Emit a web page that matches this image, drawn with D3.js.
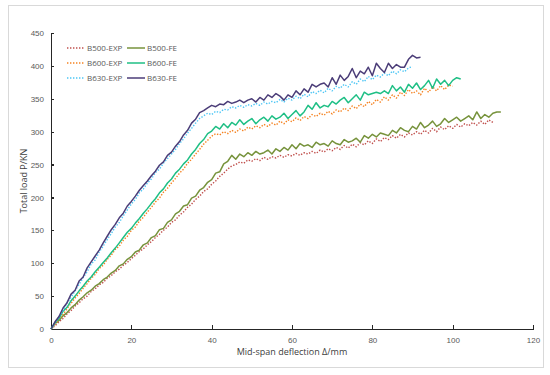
<!DOCTYPE html>
<meta charset="utf-8">
<style>
body { margin: 0; background: #fff; }
svg { font-family: "Open Sans", "Noto Sans", sans-serif; }
.axis path, .axis line { stroke: #262626; stroke-width: 1.3; shape-rendering: crispEdges; }
.axis text { fill: #595959; font-size: 8px; }
.label { fill: #404040; font-size: 9px; }
.legend text { fill: #595959; font-size: 8px; }
</style>
<body>
<script src="https://cdn.jsdelivr.net/npm/d3@7"></script>
<script>

// deflection sampled every 1 mm from 0 (index = mm)
var dx = 1;

var b500exp = [0,5,11,16,23,28,35,40,46,50,57,61,67,71,77,81,87,91,97,101,107,112,118,122,128,133,139,144,150,155,162,166,173,178,185,190,197,202,209,213,220,225,232,237,243,248,250,254,252,257,255,259,256,261,258,262,260,264,261,265,263,267,264,268,266,270,267,272,269,274,271,276,273,279,275,281,277,283,280,286,282,289,285,291,288,294,290,296,292,298,295,300,296,302,298,305,300,307,303,309,305,311,307,312,309,314,310,316,311,318,314];
var b500fe = [0,8,13,20,25,32,37,44,49,55,59,65,69,75,79,85,89,96,99,106,110,117,120,128,131,139,142,151,153,162,166,175,179,187,189,199,202,211,215,223,227,237,239,251,255,264,258,266,262,268,264,270,266,268,272,266,274,270,276,272,280,274,282,278,280,276,284,280,282,278,286,282,280,288,284,286,290,284,294,290,296,292,298,296,294,302,298,306,302,300,308,304,314,306,310,316,308,312,320,314,318,322,316,320,324,318,330,320,326,322,328,330,330];
var b600exp = [0,7,15,22,31,39,47,54,62,69,77,83,92,97,106,112,121,126,135,141,150,155,164,170,178,185,193,199,208,214,222,229,237,243,252,258,266,273,281,287,293,297,295,300,297,302,299,304,301,307,304,309,306,311,308,313,310,316,312,318,315,321,317,323,320,326,323,328,325,331,327,333,330,336,332,339,335,342,338,346,341,349,345,353,348,356,351,360,355,364,358,362,356,366,360,368,362,370,364,371,369];
var b600fe = [0,10,16,27,33,43,50,58,65,73,79,87,94,101,108,116,123,131,139,147,153,161,168,176,183,191,198,207,213,222,228,237,243,251,257,266,273,282,288,297,301,308,304,312,306,314,310,318,311,316,320,312,318,322,316,324,319,322,328,320,326,332,324,330,340,334,344,336,340,338,346,342,348,352,344,350,356,348,360,356,358,360,358,362,358,370,362,368,360,372,366,374,364,370,378,366,380,372,378,370,378,382,380];
var b630exp = [0,9,19,28,40,48,58,68,78,87,99,105,117,126,136,145,155,162,172,181,190,197,207,213,222,228,238,243,252,259,266,273,282,289,298,305,313,320,324,328,326,331,329,334,333,338,336,340,337,341,339,343,340,345,342,346,344,349,345,351,348,354,350,357,353,361,358,363,359,366,362,369,366,372,368,376,372,380,376,384,379,386,383,389,385,392,388,394,391,397,399];
var b630fe = [0,11,19,32,40,53,59,73,79,93,102,111,120,131,141,151,159,169,176,187,194,202,211,218,225,233,240,249,254,264,269,278,285,295,302,313,319,329,332,336,340,338,342,341,346,343,345,348,344,348,350,345,352,348,356,352,358,354,348,356,352,362,356,365,360,372,368,372,374,368,382,372,386,378,384,396,382,392,388,398,385,404,396,390,404,396,402,398,398,410,416,412,413];

var names = ["B500-EXP", "B500-FE", "B600-EXP", "B600-FE", "B630-EXP", "B630-FE"];
var values = [b500exp, b500fe, b600exp, b600fe, b630exp, b630fe];
var colors = ["#c0504d", "#77933c", "#f58220", "#1fbf85", "#4cc6f5", "#4b3d78"];
var dotted = [true, false, true, false, true, false];

var xTicks = [0, 20, 40, 60, 80, 100, 120];
var yTicks = [0, 50, 100, 150, 200, 250, 300, 350, 400, 450];

var W = 550, H = 375;
var margin = {top: 33, right: 17, bottom: 46, left: 51};
var width = W - margin.left - margin.right,
    height = H - margin.top - margin.bottom;

var svg = d3.select("body").append("svg")
    .attr("width", W)
    .attr("height", H);

svg.append("rect")
    .attr("x", 8.5).attr("y", 5.5)
    .attr("width", 535).attr("height", 362)
    .attr("fill", "none")
    .attr("stroke", "#d9d9d9");

var g = svg.append("g")
    .attr("transform", "translate(" + margin.left + "," + margin.top + ")");

var x = d3.scaleLinear().domain([0, 120]).range([0, width]);
var y = d3.scaleLinear().domain([0, 450]).range([height, 0]);

g.append("g")
    .attr("class", "x axis")
    .attr("transform", "translate(0," + height + ")")
    .call(d3.axisBottom(x).tickValues(xTicks).tickSizeInner(-4).tickSizeOuter(0).tickPadding(8));

g.append("g")
    .attr("class", "y axis")
    .call(d3.axisLeft(y).tickValues(yTicks).tickSizeInner(-3).tickSizeOuter(0).tickPadding(7));

var line = d3.line()
    .x(function(d, i) { return x(i * dx); })
    .y(function(d) { return y(d); });

values.forEach(function(v, k) {
  g.append("path")
      .datum(v)
      .attr("fill", "none")
      .attr("stroke", colors[k])
      .attr("stroke-width", dotted[k] ? 1.4 : 1.5)
      .attr("stroke-dasharray", dotted[k] ? "1.4,1.6" : null)
      .attr("stroke-linejoin", "round")
      .attr("d", line);
});

svg.append("text")
    .attr("class", "label")
    .attr("transform", "translate(27," + (margin.top + height / 2) + ") rotate(-90)")
    .attr("text-anchor", "middle")
    .text("Total load P/KN");

svg.append("text")
    .attr("class", "label")
    .attr("x", margin.left + width / 2)
    .attr("y", 355)
    .attr("text-anchor", "middle")
    .text("Mid-span deflection \u0394/mm");

// legend: 3 rows x 2 columns (EXP left, FE right)
var legend = svg.selectAll(".legend")
    .data(names)
  .enter().append("g")
    .attr("class", "legend")
    .attr("transform", function(d, i) {
      return "translate(" + (i % 2 ? 127 : 67) + "," + (48 + Math.floor(i / 2) * 15) + ")";
    });

legend.append("line")
    .attr("x1", 0).attr("x2", 18)
    .attr("stroke", function(d, i) { return colors[i]; })
    .attr("stroke-width", 1.5)
    .attr("stroke-dasharray", function(d, i) { return dotted[i] ? "1.4,1.6" : null; });

legend.append("text")
    .attr("x", 20)
    .attr("dy", "0.35em")
    .text(function(d) { return d; });

</script>
